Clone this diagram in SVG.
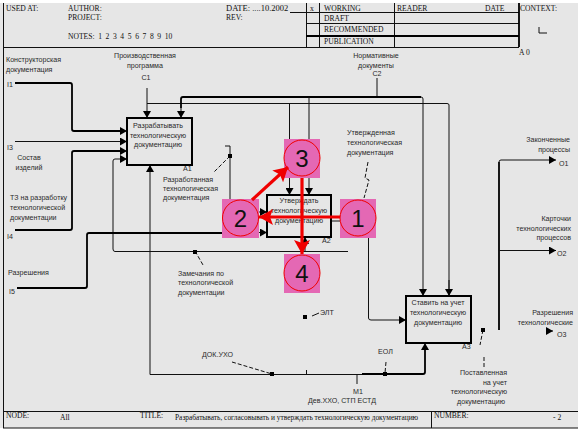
<svg xmlns="http://www.w3.org/2000/svg" width="578" height="430" viewBox="0 0 578 430">
<style>
text{font-family:"Liberation Sans",Arial,sans-serif;font-size:7.1px;fill:#2a2a2a}
.s{font-family:"Liberation Serif","Times New Roman",serif;font-size:7.6px;fill:#111}
.m{text-anchor:middle}
.e{text-anchor:end}
.l{fill:none;stroke:#111;stroke-width:1}
.t{fill:none;stroke:#000;stroke-width:1.8}
.h{fill:none;stroke:#111;stroke-width:1}
.d{fill:none;stroke:#111;stroke-width:1;stroke-dasharray:4 2}
.box{fill:#e6e6e6;stroke:#000;stroke-width:2}
.sq{fill:#e468b4}
.c{fill:#e468b4;stroke:#f00000;stroke-width:1}
.n{font-family:"Liberation Sans",Arial,sans-serif;font-size:24px;fill:#111;text-anchor:middle}
.r{fill:none;stroke:#f00000;stroke-width:3.2}
</style>
<defs>
<marker id="a" markerUnits="userSpaceOnUse" markerWidth="8" markerHeight="8" refX="7" refY="4" orient="auto"><path d="M0 0L7 4L0 8Z" fill="#000"/></marker>
<marker id="ra" markerUnits="userSpaceOnUse" markerWidth="16" markerHeight="16" refX="14" refY="8" orient="auto"><path d="M0 0L14 8L0 16L3 8Z" fill="#f00000"/></marker>
</defs>
<rect width="578" height="430" fill="#fff"/>
<rect x="0" y="3" width="578" height="425" fill="#e6e6e6"/>
<g id="frame">
<path class="h" d="M3.500 3V428M3 47.500H519M3 411.500H578M3 428H578M306.500 3V47M319.500 3V47M394.500 3V47M290 12.500H519M306 23.500H519M306 35.500H519M431.500 411V428"/>
<path class="t" d="M519 3V47M306 36H519"/>
<path class="h" d="M539 27V33H547"/>
<text class="s" x="6" y="11">USED AT:</text>
<text class="s" x="68" y="11">AUTHOR:</text>
<text class="s" x="68" y="20">PROJECT:</text>
<text class="s" x="226" y="11" style="font-size:8.500px">DATE: ....10.2002</text>
<text class="s" x="226" y="20">REV:</text>
<text class="s" x="68" y="39" style="word-spacing:1.700px">NOTES:  1  2  3  4  5  6  7  8  9  10</text>
<text class="s" x="310" y="11">x</text>
<text class="s" x="324" y="11">WORKING</text>
<text class="s" x="324" y="21">DRAFT</text>
<text class="s" x="324" y="32">RECOMMENDED</text>
<text class="s" x="324" y="44">PUBLICATION</text>
<text class="s" x="397" y="11">READER</text>
<text class="s" x="485" y="11">DATE</text>
<text class="s" x="520" y="11">CONTEXT:</text>
<text class="s" x="519" y="55">A 0</text>
<text class="s" x="6" y="418">NODE:</text>
<text class="s" x="60" y="420">All</text>
<text class="s" x="140" y="418">TITLE:</text>
<text class="s" x="175" y="420" style="font-size:7.400px">Разрабатывать, согласовывать и утверждать технологическую документацию</text>
<text class="s" x="434" y="418">NUMBER:</text>
<text class="s" x="553" y="420">- 2</text>
</g>
<g id="connectors">
<path class="t" d="M15 83H70Q72 83 72 85V129Q72 131 74 131H120"/>
<path class="l" marker-end="url(#a)" d="M120 131H127"/>
<path class="l" marker-end="url(#a)" d="M15 141.500H127"/>
<path class="t" d="M15 230H70Q72 230 72 228V153Q72 151 74 151H120"/>
<path class="l" marker-end="url(#a)" d="M120 151H127"/>
<path class="l" marker-end="url(#a)" d="M348 251.500H115Q113 251.500 113 249V161Q113 159 115 159H127"/>
<path class="l" marker-end="url(#a)" d="M150 374.500V165"/>
<path class="l" d="M150 374.500H362"/>
<path class="t" d="M362 374H423Q425 374 425 372V350"/>
<path class="l" marker-end="url(#a)" d="M425 350V343"/>
<path class="l" d="M306.500 370V374M357 374V384"/>
<path class="l" marker-end="url(#a)" d="M147 88V118"/>
<path class="l" d="M147 103.500H447Q449 103.500 449 105V296"/>
<path class="l" marker-end="url(#a)" d="M449 280V296"/>
<path class="l" d="M377 78V97"/>
<path class="t" d="M181 108V99Q181 97 183 97H421"/>
<path class="l" d="M421 97Q423 97 423 99V285"/>
<path class="l" marker-end="url(#a)" d="M423 285V296"/>
<path class="l" marker-end="url(#a)" d="M181 108V118"/>
<path class="l" marker-end="url(#a)" d="M289.500 103V195"/>
<path class="l" marker-end="url(#a)" d="M309 97V195"/>
<path class="t" d="M17 288H85Q87 288 87 286V235Q87 233 89 233H222"/>
<path class="l" marker-end="url(#a)" d="M222 232.500H267"/>
<path class="l" marker-end="url(#a)" d="M259 212H267"/>
<path class="l" d="M331 221H340"/>
<path class="l" marker-end="url(#a)" d="M305 251V237"/>
<path class="l" marker-end="url(#a)" d="M368.500 237V318Q368.500 320 371 320H406"/>
<path class="t" d="M499 330V162"/>
<path class="l" marker-end="url(#a)" d="M499 162Q499 160 501 160H556"/>
<path class="l" marker-end="url(#a)" d="M499 250.500H556"/>
<path class="l" marker-end="url(#a)" d="M546 331H553"/>
<path class="l" d="M225 146H230V200"/>
<path class="d" d="M230 156L214 172"/>
<path class="d" d="M195 251L203 265"/>
<path class="d" d="M368 162L365 178L369 180L364 198"/>
<path class="d" d="M232 362L272 374"/>
<path class="l" d="M312 316L319 313"/>
<path class="d" d="M386 362L385 373"/>
<path class="d" d="M483 330L480 345M484 357V368"/>
<g fill="#000"><rect x="228" y="154" width="4" height="4"/><rect x="193" y="250" width="4" height="4"/><rect x="270" y="372" width="4" height="4"/><rect x="303" y="315" width="4" height="4"/><rect x="383" y="372" width="4" height="4"/><rect x="481" y="328" width="4" height="4"/></g>
</g>
<g id="A1">
<rect class="box" x="127" y="118" width="65" height="47"/>
<text class="m" x="158" y="128">Разрабатывать</text>
<text class="m" x="158" y="138">технологическую</text>
<text class="m" x="158" y="147">документацию</text>
<text x="183" y="171">A1</text>
</g>
<g id="A2">
<rect class="box" x="267" y="195" width="64" height="42"/>
<text class="m" x="299" y="203">Утверждать</text>
<text class="m" x="299" y="213">технологическую</text>
<text class="m" x="299" y="223">документацию</text>
<text x="322" y="243">A2</text>
</g>
<g id="A3">
<rect class="box" x="406" y="296" width="65" height="47"/>
<path d="M406 343H471" stroke="#000" stroke-width="2" fill="none"/>
<text class="m" x="438" y="305">Ставить на учет</text>
<text class="m" x="438" y="315">технологическую</text>
<text class="m" x="438" y="325">документацию</text>
<text x="462" y="349">A3</text>
</g>
<g id="labels">
<text x="6" y="62">Конструкторская</text>
<text x="6" y="72">документация</text>
<text x="7" y="87">I1</text>
<text x="7" y="150">I3</text>
<text class="m" x="29" y="160">Состав</text>
<text class="m" x="29" y="170">изделий</text>
<text x="10" y="200">ТЗ на разработку</text>
<text x="10" y="210">технологической</text>
<text x="10" y="220">документации</text>
<text x="7" y="239">I4</text>
<text x="8" y="275">Разрешения</text>
<text x="9" y="294">I5</text>
<text class="m" x="145" y="58">Производственная</text>
<text class="m" x="145" y="68">программа</text>
<text class="m" x="146" y="80">C1</text>
<text class="m" x="376" y="58">Нормативные</text>
<text class="m" x="376" y="68">документы</text>
<text class="m" x="377" y="76">C2</text>
<text x="163" y="182">Разработанная</text>
<text x="163" y="191">технологическая</text>
<text x="163" y="200">документация</text>
<text x="347" y="135">Утвержденная</text>
<text x="347" y="145">технологическая</text>
<text x="347" y="155">документация</text>
<text x="178" y="276">Замечания по</text>
<text x="178" y="285">технологической</text>
<text x="178" y="295">документации</text>
<text class="e" x="570" y="142">Законченные</text>
<text class="e" x="570" y="152">процессы</text>
<text x="559" y="166">O1</text>
<text class="e" x="571" y="221">Карточки</text>
<text class="e" x="571" y="231">технологических</text>
<text class="e" x="571" y="240">процессов</text>
<text x="557" y="256">O2</text>
<text class="e" x="573" y="315">Разрешения</text>
<text class="e" x="573" y="325">технологические</text>
<text x="557" y="337">O3</text>
<text x="320" y="315">ЭЛТ</text>
<text x="202" y="357">ДОК.УХО</text>
<text x="378" y="354">ЕОЛ</text>
<text x="353" y="394">M1</text>
<text x="308" y="403">Дев.ХХО, СТП ЕСТД</text>
<text class="e" x="507" y="375">Поставленная</text>
<text class="e" x="507" y="385">на учет</text>
<text class="e" x="507" y="394">технологическую</text>
<text class="e" x="505" y="404">документацию</text>
</g>
<g id="node-1"><rect class="sq" x="340" y="199" width="36" height="39"/><circle class="c" cx="358" cy="218" r="18"/><text class="n" x="358" y="226.500">1</text></g>
<g id="node-2"><rect class="sq" x="222" y="199" width="37" height="39"/><circle class="c" cx="240.500" cy="218" r="18"/><text class="n" x="240.500" y="226.500">2</text></g>
<g id="node-3"><rect class="sq" x="284" y="139" width="36" height="39"/><circle class="c" cx="302" cy="158" r="18"/><text class="n" x="302" y="166.500">3</text></g>
<g id="node-4"><rect class="sq" x="284" y="254" width="36" height="39"/><circle class="c" cx="302" cy="273" r="18"/><text class="n" x="302" y="281.500">4</text></g>
<g id="red-arrows">
<path class="r" marker-end="url(#ra)" d="M340 217H259"/>
<path class="r" marker-end="url(#ra)" d="M252 200L288 167"/>
<path class="r" marker-end="url(#ra)" d="M302 178V254"/>
</g>
</svg>
